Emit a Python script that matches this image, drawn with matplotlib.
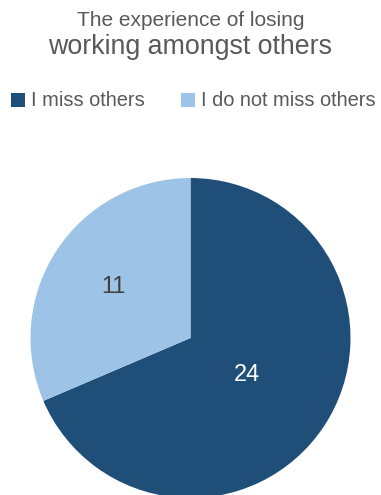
import numpy as np
import matplotlib.pyplot as plt
from matplotlib.patches import Patch

plt.rcParams['font.family'] = ['Liberation Sans', 'DejaVu Sans']

# data
categories = ['I miss others', 'I do not miss others']
values = [24, 11]
colors = ['#1f4e79', '#9dc3e6']
text_grey = '#595959'

W, H = 381, 495
fig = plt.figure(figsize=(W / 100, H / 100), dpi=100)

# titles
fig.text(0.5, 1 - 20 / H, 'The experience of losing', ha='center', va='center',
         fontsize=15, color=text_grey)
fig.text(0.5, 1 - 47 / H, 'working amongst others', ha='center', va='center',
         fontsize=19.3, color=text_grey)

# pie axes: centre (190.5, 338) px, radius 160 px
cx, cy, r = 190.5, 338, 160
ax = fig.add_axes([(cx - r) / W, (H - cy - r) / H, 2 * r / W, 2 * r / H])
wedges, _ = ax.pie(values, colors=colors, startangle=90, counterclock=False,
                   radius=1, wedgeprops=dict(linewidth=0))
ax.set_xlim(-1, 1)
ax.set_ylim(-1, 1)
ax.set_aspect('equal')
ax.axis('off')

label_r = [0.42, 0.58]
label_colors = ['white', '#404040']
for w, v, lr, lc in zip(wedges, values, label_r, label_colors):
    ang = np.deg2rad((w.theta1 + w.theta2) / 2)
    ax.text(lr * np.cos(ang), lr * np.sin(ang), str(v), ha='center', va='center',
            fontsize=17, color=lc)

handles = [Patch(facecolor=c, edgecolor='none') for c in colors]
fig.legend(handles, categories, loc='center', bbox_to_anchor=((W / 2 + 3) / W, 1 - 101 / H),
           ncol=2, frameon=False, fontsize=14.4, labelcolor=text_grey,
           handlelength=0.7, handleheight=0.7, handletextpad=0.3, columnspacing=1.8)

fig.savefig('out.png', dpi=100)
